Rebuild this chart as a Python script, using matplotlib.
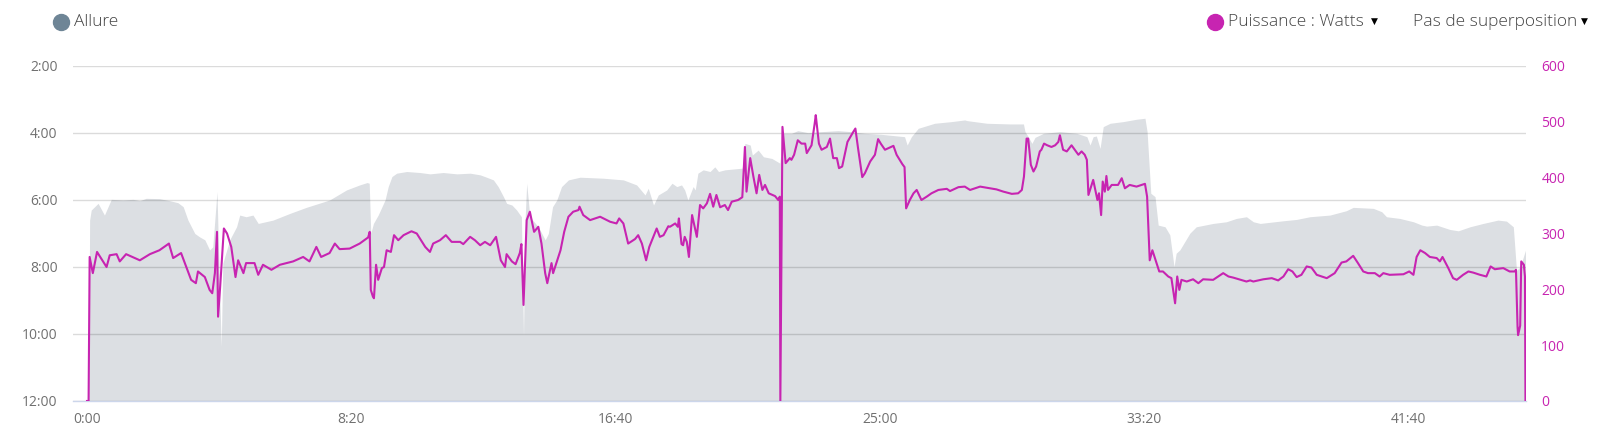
import matplotlib
matplotlib.use("Agg")
import matplotlib.pyplot as plt
from matplotlib.lines import Line2D
from matplotlib.ticker import FixedLocator, FuncFormatter

# pace (Allure), seconds since start -> min/km as decimal minutes
pace_t = [3, 5, 8, 21, 33, 46, 68, 87, 100, 112, 137, 156, 172, 182, 191, 204, 213, 223, 232, 238,
          246, 249, 254, 257, 270, 283, 289, 301, 314, 324, 352, 384, 415, 459, 491, 516, 530, 534,
          537, 542, 551, 564, 570, 577, 586, 605, 630, 649, 674, 700, 725, 744, 756, 769, 778, 788,
          794, 804, 813, 822, 826, 829, 832, 838, 854, 867, 873, 881, 889, 898, 911, 933, 977, 1015,
          1040, 1056, 1062, 1072, 1081, 1097, 1107, 1116, 1125, 1131, 1137, 1147, 1151, 1156, 1166,
          1179, 1188, 1195, 1207, 1220, 1240, 1245, 1255, 1259, 1270, 1280, 1296, 1311, 1317, 1333,
          1345, 1364, 1390, 1421, 1446, 1472, 1503, 1547, 1552, 1560, 1573, 1604, 1636, 1661, 1665,
          1703, 1747, 1772, 1775, 1781, 1788, 1794, 1810, 1841, 1873, 1892, 1898, 1904, 1910, 1917,
          1923, 1936, 1961, 1986, 2002, 2006, 2013, 2021, 2027, 2040, 2049, 2057, 2061, 2068, 2087,
          2099, 2131, 2156, 2175, 2194, 2207, 2220, 2264, 2289, 2314, 2352, 2383, 2396, 2434, 2450,
          2459, 2484, 2510, 2526, 2535, 2554, 2579, 2595, 2617, 2642, 2670, 2686, 2699, 2705, 2712,
          2722]
pace_min = [12.0, 6.60, 6.30, 6.10, 6.45, 5.98, 6.00, 5.98, 6.02, 5.95, 5.96, 6.02, 6.08, 6.20, 6.60,
            7.00, 7.10, 7.19, 7.49, 7.40, 5.75, 7.60, 10.38, 7.89, 7.19, 6.80, 6.45, 6.50, 6.45, 6.70,
            6.60, 6.40, 6.22, 6.00, 5.70, 5.55, 5.48, 5.50, 7.00, 6.70, 6.45, 6.00, 5.60, 5.30, 5.20,
            5.15, 5.18, 5.22, 5.18, 5.22, 5.20, 5.25, 5.32, 5.40, 5.60, 5.90, 6.10, 6.15, 6.30, 6.50,
            10.08, 6.60, 5.50, 6.50, 6.80, 7.19, 7.00, 6.20, 6.00, 5.60, 5.40, 5.32, 5.35, 5.40, 5.55,
            5.85, 5.65, 6.15, 5.85, 5.70, 5.50, 5.60, 5.55, 5.70, 6.00, 5.60, 5.70, 5.20, 5.10, 5.15,
            5.01, 5.15, 5.10, 5.08, 5.05, 4.31, 4.36, 4.66, 4.51, 4.71, 4.76, 4.90, 4.01, 4.01, 3.93,
            3.99, 3.96, 3.93, 3.96, 4.01, 4.04, 4.11, 4.36, 4.11, 3.86, 3.71, 3.66, 3.61, 3.63, 3.71,
            3.73, 3.73, 3.96, 4.11, 4.31, 4.13, 4.01, 3.96, 4.01, 4.11, 4.36, 4.11, 4.09, 4.46, 3.81,
            3.71, 3.66, 3.59, 3.56, 3.96, 5.80, 5.90, 6.75, 6.80, 7.04, 7.99, 7.59, 7.49, 6.99, 6.80,
            6.70, 6.65, 6.55, 6.50, 6.65, 6.70, 6.62, 6.58, 6.50, 6.45, 6.32, 6.22, 6.25, 6.35, 6.50,
            6.55, 6.65, 6.75, 6.78, 6.75, 6.88, 6.92, 6.80, 6.70, 6.60, 6.63, 6.80, 8.10, 8.00, 7.50]

# power (Puissance), seconds since start -> watts
power_t = [0, 3, 5, 11, 19, 37, 43, 56, 62, 74, 100, 119, 137, 155, 163, 178, 188, 197, 206, 210,
           223, 232, 237, 242, 246, 248, 252, 259, 265, 273, 281, 286, 296, 301, 317, 324, 333, 349,
           365, 390, 409, 421, 434, 443, 459, 469, 478, 497, 516, 532, 535, 537, 541, 543, 547, 551,
           558, 562, 567, 575, 581, 589, 599, 614, 624, 640, 649, 655, 668, 679, 690, 706, 712, 725,
           734, 744, 753, 763, 774, 783, 791, 794, 804, 811, 819, 822, 826, 832, 838, 846, 854, 860,
           867, 871, 879, 882, 896, 903, 911, 920, 930, 932, 939, 952, 971, 990, 1002, 1007, 1015,
           1024, 1037, 1043, 1050, 1058, 1064, 1078, 1084, 1091, 1100, 1103, 1113, 1118, 1120, 1125,
           1128, 1131, 1135, 1139, 1145, 1154, 1160, 1166, 1173, 1179, 1185, 1191, 1198, 1207, 1213,
           1220, 1232, 1240, 1245, 1248, 1255, 1261, 1267, 1272, 1278, 1283, 1290, 1302, 1308, 1311,
           1312, 1316, 1322, 1330, 1333, 1338, 1345, 1352, 1359, 1362, 1371, 1377, 1379, 1385, 1390,
           1400, 1406, 1412, 1419, 1423, 1429, 1439, 1450, 1454, 1459, 1467, 1472, 1482, 1491, 1497,
           1502, 1510, 1526, 1532, 1543, 1547, 1550, 1557, 1564, 1570, 1579, 1589, 1598, 1611, 1627,
           1633, 1649, 1661, 1671, 1690, 1709, 1721, 1734, 1750, 1762, 1769, 1773, 1778, 1781, 1786,
           1791, 1796, 1803, 1806, 1811, 1817, 1825, 1832, 1838, 1841, 1847, 1854, 1863, 1869, 1876,
           1882, 1888, 1892, 1895, 1904, 1912, 1915, 1919, 1922, 1926, 1929, 1932, 1939, 1951, 1958,
           1964, 1973, 1986, 2002, 2006, 2011, 2016, 2024, 2029, 2036, 2046, 2052, 2059, 2063, 2067,
           2071, 2081, 2093, 2103, 2112, 2131, 2150, 2160, 2169, 2194, 2201, 2207, 2226, 2242, 2254,
           2264, 2273, 2281, 2289, 2298, 2308, 2317, 2327, 2346, 2361, 2374, 2383, 2396, 2405, 2415,
           2424, 2437, 2446, 2453, 2465, 2491, 2502, 2510, 2516, 2523, 2532, 2541, 2554, 2560, 2565,
           2576, 2585, 2592, 2604, 2614, 2623, 2636, 2648, 2656, 2664, 2680, 2692, 2702, 2704, 2707,
           2708, 2712, 2714, 2719, 2721, 2722]
power_w = [0, 0, 258, 229, 267, 240, 261, 263, 250, 263, 252, 263, 270, 282, 256, 265, 240, 217, 211,
           232, 222, 199, 193, 229, 303, 151, 205, 309, 300, 276, 222, 252, 229, 247, 247, 226, 244,
           235, 244, 250, 258, 250, 276, 258, 265, 282, 272, 273, 282, 293, 303, 199, 187, 184, 244,
           217, 238, 240, 270, 267, 297, 288, 297, 304, 300, 276, 267, 282, 288, 297, 285, 285, 281,
           294, 288, 279, 285, 279, 294, 252, 240, 263, 250, 245, 265, 281, 172, 324, 339, 303, 312,
           282, 229, 211, 247, 229, 270, 303, 330, 339, 342, 348, 333, 324, 330, 321, 318, 327, 318,
           282, 290, 297, 282, 252, 276, 309, 294, 297, 313, 312, 318, 312, 327, 281, 279, 294, 285,
           258, 333, 294, 351, 345, 354, 371, 348, 369, 347, 351, 342, 357, 360, 365, 455, 375, 435,
           402, 372, 405, 378, 387, 372, 367, 360, 366, 0, 491, 426, 435, 432, 441, 467, 461, 461,
           444, 458, 497, 512, 461, 450, 455, 470, 435, 435, 417, 420, 464, 482, 488, 453, 401, 408,
           429, 441, 469, 461, 450, 457, 441, 424, 419, 345, 360, 372, 378, 360, 366, 372, 378, 380,
           376, 383, 384, 378, 384, 381, 379, 375, 371, 372, 378, 402, 470, 470, 423, 411, 420, 447,
           450, 461, 458, 455, 458, 464, 476, 450, 447, 458, 450, 441, 447, 441, 432, 369, 396, 360,
           372, 333, 393, 375, 403, 378, 387, 387, 399, 381, 387, 384, 389, 366, 252, 270, 247, 232,
           232, 223, 220, 175, 223, 199, 217, 214, 218, 211, 218, 217, 229, 223, 221, 214, 216, 214,
           218, 220, 216, 223, 236, 232, 222, 226, 241, 239, 226, 220, 229, 248, 250, 260, 247, 232,
           229, 229, 223, 229, 226, 227, 232, 226, 258, 270, 265, 258, 256, 250, 258, 238, 220, 217,
           226, 232, 230, 226, 223, 241, 236, 238, 232, 232, 235, 133, 118, 135, 250, 244, 223, 0]

x_ticks = [0, 500, 1000, 1500, 2000, 2500]
pace_ticks = [2, 4, 6, 8, 10, 12]
power_ticks = [0, 100, 200, 300, 400, 500, 600]

FILL = "#dcdfe3"
PINK = "#c724b1"
LABEL = "#707070"
HEAD = "#444444"
FONTS = ["Open Sans", "DejaVu Sans"]

plt.rcParams["font.family"] = FONTS


def mmss(v, pos=None):
    v = int(round(v * 60))
    return f"{v // 60}:{v % 60:02d}"


fig = plt.figure(figsize=(16.02, 4.45), dpi=100)
W, H = 1602, 445
ax = fig.add_axes([73 / W, (H - 401) / H, (1526 - 73) / W, (401 - 66) / H])

ax.fill_between(pace_t, pace_min, 12, color=FILL, linewidth=0, zorder=1)
ax.set_ylim(12, 2)
ax.set_xlim(-26.5, 2723)
ax.yaxis.set_major_locator(FixedLocator(pace_ticks))
ax.yaxis.set_major_formatter(FuncFormatter(lambda v, p: mmss(v)))
ax.xaxis.set_major_locator(FixedLocator(x_ticks))
ax.xaxis.set_major_formatter(FuncFormatter(lambda v, p: mmss(v / 60.0)))
ax.set_axisbelow(False)
ax.grid(axis="y", color="black", alpha=0.14, linewidth=1)
ax.tick_params(axis="y", length=0, pad=11, labelsize=10, labelcolor=LABEL)
ax.tick_params(axis="x", length=0, pad=8, labelsize=10, labelcolor=LABEL)
for s in ["top", "left", "right"]:
    ax.spines[s].set_visible(False)
ax.spines["bottom"].set_color("#ccd6eb")
ax.spines["bottom"].set_linewidth(1)

ax2 = ax.twinx()
ax2.plot(power_t, power_w, color=PINK, linewidth=1.5, solid_joinstyle="round")
ax2.set_ylim(0, 600)
ax2.yaxis.set_major_locator(FixedLocator(power_ticks))
ax2.tick_params(axis="y", length=0, pad=11, labelsize=10, labelcolor=PINK)
for s in ax2.spines.values():
    s.set_visible(False)

# legend / header
ly = 1 - 22 / H
fig.add_artist(Line2D([61 / W], [ly], marker="o", markersize=11.5, color="#6e8596",
                      linestyle="none", transform=fig.transFigure))
fig.text(74 / W, ly, "Allure", fontsize=12.5, fontweight="light", color=HEAD,
         va="center", ha="left")

fig.add_artist(Line2D([1214.5 / W], [ly], marker="o", markersize=11.5, color=PINK,
                      linestyle="none", transform=fig.transFigure))
fig.text(1228 / W, ly, "Puissance : Watts", fontsize=12.5, fontweight="light", color=HEAD,
         va="center", ha="left")
fig.text(1371 / W, ly + 0.002, "\u25bc", fontsize=6.5, color="black", va="center", ha="left",
         family="DejaVu Sans")
fig.text(1413 / W, ly, "Pas de superposition", fontsize=12.5, fontweight="light", color=HEAD,
         va="center", ha="left")
fig.text(1581 / W, ly + 0.002, "\u25bc", fontsize=6.5, color="black", va="center", ha="left",
         family="DejaVu Sans")

fig.savefig("out.png", dpi=100)
